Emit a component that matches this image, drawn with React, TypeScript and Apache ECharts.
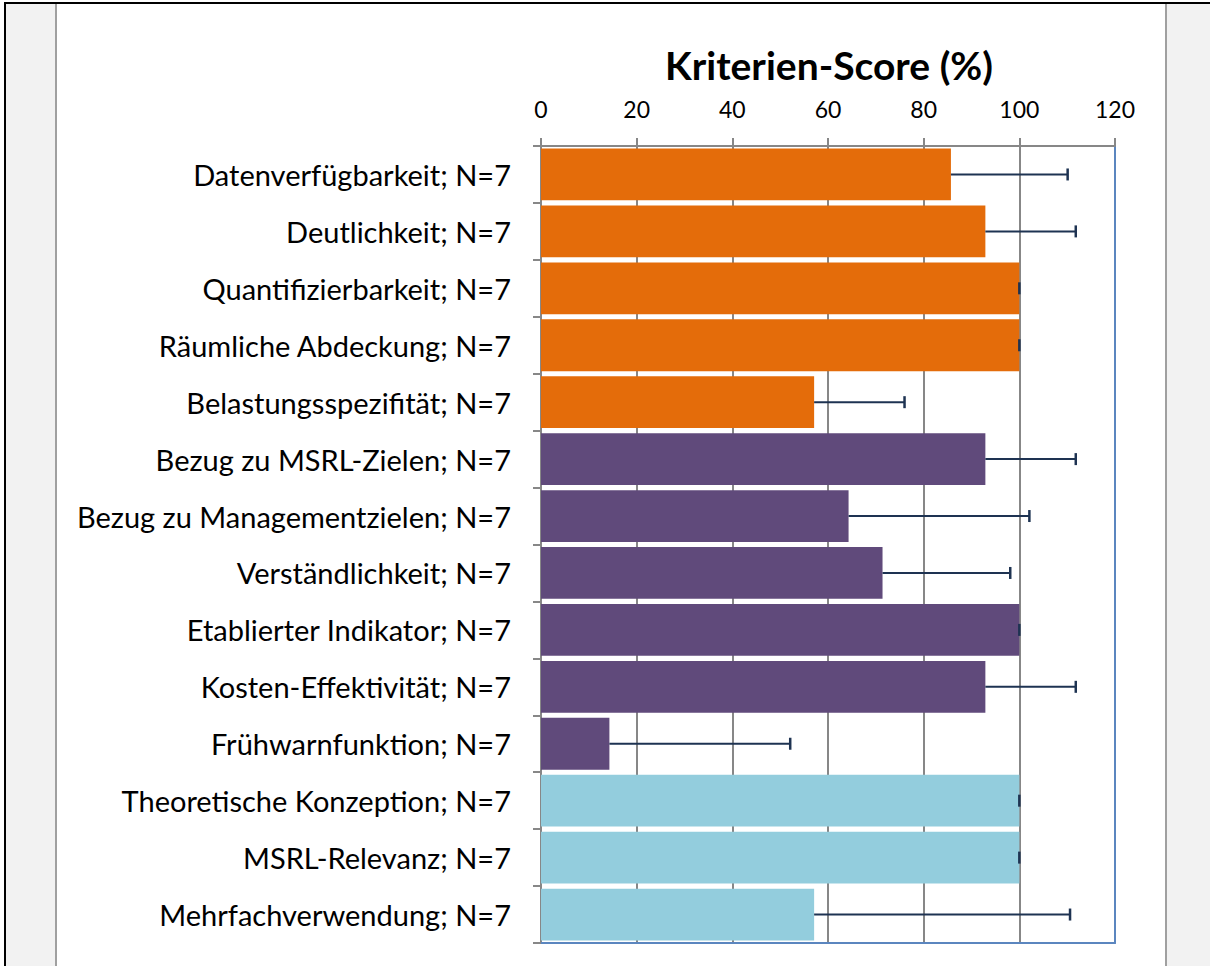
import React, { useEffect, useRef } from "react";
import * as echarts from "echarts";

const categories = [
  "Datenverfügbarkeit; N=7",
  "Deutlichkeit; N=7",
  "Quantifizierbarkeit; N=7",
  "Räumliche Abdeckung; N=7",
  "Belastungsspezifität; N=7",
  "Bezug zu MSRL-Zielen; N=7",
  "Bezug zu Managementzielen; N=7",
  "Verständlichkeit; N=7",
  "Etablierter Indikator; N=7",
  "Kosten-Effektivität; N=7",
  "Frühwarnfunktion; N=7",
  "Theoretische Konzeption; N=7",
  "MSRL-Relevanz; N=7",
  "Mehrfachverwendung; N=7",
];
const scores = [85.7, 92.9, 100, 100, 57.1, 92.9, 64.3, 71.4, 100, 92.9, 14.3, 100, 100, 57.1];
const errors = [24.4, 18.9, 0, 0, 18.9, 18.9, 37.8, 26.7, 0, 18.9, 37.8, 0, 0, 53.5];
const groups = [0, 0, 0, 0, 0, 1, 1, 1, 1, 1, 1, 2, 2, 2];
const groupColors = ["#E46C0A", "#604A7B", "#93CDDD"];
const titleText = "Kriterien-Score (%)";
const xMin = 0;
const xMax = 120;
const xStep = 20;

export default function App() {
  const ref = useRef<HTMLDivElement>(null);
  useEffect(() => {
    const chart = echarts.init(ref.current!, null, { renderer: "svg" });
    const font = "Lato, 'Open Sans', sans-serif";
    const gray = "#878787";
    const blue = "#5B86BF";
    const errColor = "#1E3352";
    chart.setOption({
      animation: false,
      backgroundColor: "#ffffff",
      graphic: [
        { type: "rect", silent: true, z: -10, shape: { x: 0, y: 0, width: 1210, height: 966 }, style: { fill: "#ffffff" } },
        { type: "rect", silent: true, z: -9, shape: { x: 6, y: 4, width: 49, height: 962 }, style: { fill: "#F2F2F2" } },
        { type: "rect", silent: true, z: -9, shape: { x: 1167, y: 4, width: 43, height: 962 }, style: { fill: "#F2F2F2" } },
        { type: "rect", silent: true, z: -8, shape: { x: 55, y: 4, width: 2, height: 962 }, style: { fill: "#A0A0A0" } },
        { type: "rect", silent: true, z: -8, shape: { x: 1165, y: 4, width: 2, height: 962 }, style: { fill: "#A0A0A0" } },
        { type: "rect", silent: true, z: -7, shape: { x: 4, y: 2, width: 1206, height: 2 }, style: { fill: "#000000" } },
        { type: "rect", silent: true, z: -7, shape: { x: 4, y: 2, width: 2, height: 964 }, style: { fill: "#000000" } },
        {
          type: "text",
          x: 829,
          y: 65,
          style: {
            text: titleText,
            fontFamily: font,
            fontWeight: "bold",
            fontSize: 39,
            fill: "#000000",
            textAlign: "center",
            textVerticalAlign: "middle",
          },
        },
      ],
      grid: { left: 541, top: 146, width: 574, height: 797, containLabel: false },
      xAxis: [
        {
          type: "value",
          position: "top",
          min: xMin,
          max: xMax,
          interval: xStep,
          axisLine: { show: true, lineStyle: { color: gray, width: 2 } },
          axisTick: { show: true, length: 8, lineStyle: { color: gray, width: 2 } },
          axisLabel: { fontFamily: font, fontSize: 23, color: "#000000", margin: 26 },
          splitLine: { show: true, lineStyle: { color: gray, width: 2 } },
        },
        {
          type: "value",
          position: "bottom",
          min: xMin,
          max: xMax,
          interval: xStep,
          axisLine: { show: true, onZero: false, lineStyle: { color: blue, width: 2 } },
          axisTick: { show: false },
          axisLabel: { show: false },
          splitLine: { show: false },
        },
      ],
      yAxis: [
        {
          type: "category",
          data: categories,
          inverse: true,
          axisLine: { show: true, lineStyle: { color: gray, width: 2 } },
          axisTick: { show: true, length: 8, lineStyle: { color: gray, width: 2 } },
          axisLabel: { fontFamily: font, fontSize: 29, color: "#000000", margin: 30 },
          splitLine: { show: false },
        },
        {
          type: "category",
          data: categories,
          inverse: true,
          position: "right",
          axisLine: { show: true, onZero: false, lineStyle: { color: blue, width: 2 } },
          axisTick: { show: false },
          axisLabel: { show: false },
          splitLine: { show: false },
        },
      ],
      series: [
        {
          type: "bar",
          xAxisIndex: 0,
          yAxisIndex: 0,
          barCategoryGap: "9%",
          data: scores.map((v, i) => ({ value: v, itemStyle: { color: groupColors[groups[i]] } })),
          z: 2,
        },
        {
          type: "custom",
          xAxisIndex: 0,
          yAxisIndex: 0,
          z: 5,
          encode: { x: [0, 2], y: 1 },
          data: scores.map((v, i) => [v, i, v + errors[i]]),
          renderItem: (params: any, api: any) => {
            const v = api.value(0);
            const i = api.value(1);
            const e = api.value(2);
            const p0 = api.coord([v, i]);
            const p1 = api.coord([e, i]);
            return {
              type: "group",
              children: [
                {
                  type: "line",
                  shape: { x1: p0[0], y1: p0[1], x2: p1[0], y2: p1[1] },
                  style: { stroke: errColor, lineWidth: 2 },
                },
                {
                  type: "line",
                  shape: { x1: p1[0], y1: p1[1] - 6, x2: p1[0], y2: p1[1] + 6 },
                  style: { stroke: errColor, lineWidth: 2.5 },
                },
              ],
            };
          },
        },
      ],
    });
    return () => chart.dispose();
  }, []);
  return (
    <div
      ref={ref}
      style={{ position: "fixed", left: 0, top: 0, width: 1210, height: 966 }}
    />
  );
}
